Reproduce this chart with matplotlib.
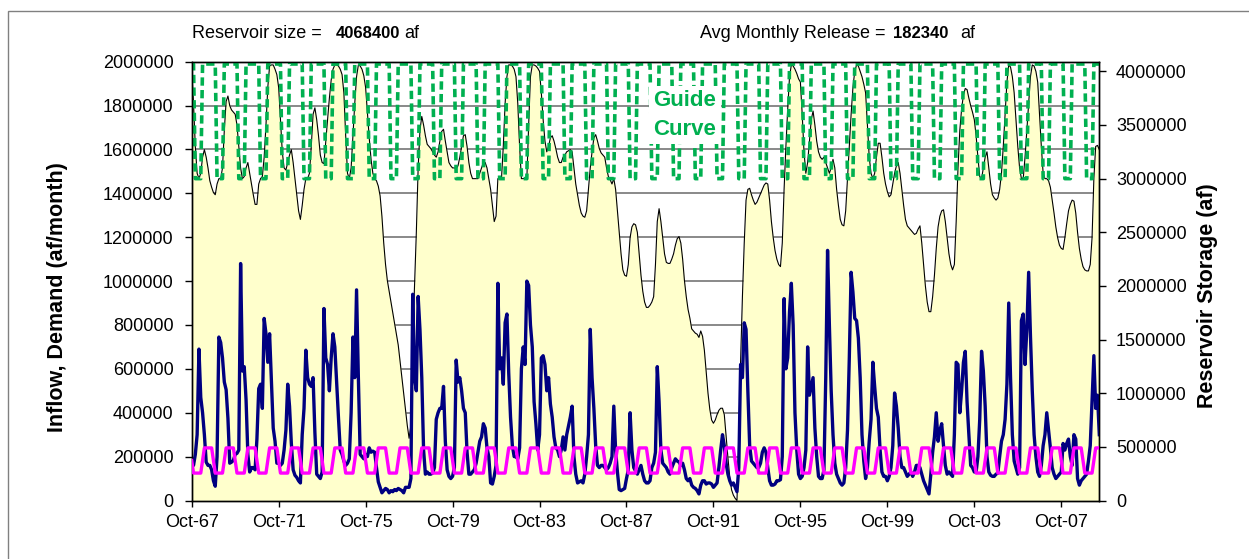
import numpy as np
import matplotlib.pyplot as plt
from matplotlib.ticker import FixedLocator, MultipleLocator, StrMethodFormatter
from matplotlib.patches import Rectangle

plt.rcParams['font.family'] = ['Liberation Sans', 'DejaVu Sans']

# monthly inflow (1000 af), Oct-67 .. Jul-09, one row per water year (Oct..Sep)
inflow_kaf = [
    190, 160, 210, 300, 690, 470, 400, 300, 175, 160, 160, 140,
    90, 65, 200, 745, 720, 650, 540, 505, 375, 170, 175, 183,
    210, 215, 230, 1080, 590, 610, 460, 210, 130, 150, 150, 140,
    280, 510, 530, 420, 830, 760, 630, 760, 550, 330, 270, 170,
    170, 160, 170, 230, 320, 530, 430, 260, 140, 115, 105, 90,
    80, 300, 420, 685, 560, 530, 520, 560, 310, 120, 110, 100,
    130, 875, 650, 620, 500, 650, 760, 700, 540, 380, 230, 210,
    180, 160, 170, 190, 400, 745, 560, 960, 560, 210, 200, 190,
    210, 200, 240, 220, 225, 220, 150, 85, 60, 35, 45, 55,
    50, 35, 45, 40, 50, 45, 55, 50, 45, 35, 60, 60,
    60, 100, 940, 560, 500, 930, 780, 560, 230, 120, 130, 120,
    120, 125, 150, 370, 400, 420, 420, 520, 270, 140, 110, 100,
    110, 150, 640, 540, 560, 500, 420, 400, 220, 120, 120, 130,
    140, 170, 220, 270, 290, 350, 330, 240, 200, 80, 75, 110,
    160, 990, 600, 650, 530, 810, 850, 580, 380, 250, 200, 200,
    190, 240, 600, 700, 620, 1000, 980, 800, 700, 450, 350, 230,
    300, 650, 660, 620, 500, 560, 440, 380, 290, 240, 230, 200,
    230, 290, 230, 300, 340, 380, 430, 200, 120, 80, 85, 90,
    80, 120, 200, 300, 780, 560, 420, 250, 160, 150, 160, 160,
    150, 140, 150, 170, 200, 430, 230, 130, 50, 45, 50, 55,
    100, 140, 400, 230, 150, 135, 120, 140, 160, 120, 90, 80,
    80, 90, 150, 170, 220, 610, 450, 230, 170, 160, 150, 130,
    120, 150, 170, 190, 180, 175, 160, 170, 140, 100, 90, 100,
    70, 60, 55, 45, 30, 70, 90, 90, 75, 80, 80, 75,
    60, 70, 80, 150, 230, 300, 250, 170, 120, 90, 70, 80,
    60, 40, 150, 620, 560, 810, 780, 500, 250, 180, 170, 160,
    150, 150, 170, 220, 240, 220, 150, 90, 70, 70, 75, 90,
    90, 95, 200, 920, 600, 650, 860, 990, 800, 400, 230, 120,
    100, 110, 150, 230, 700, 480, 520, 560, 330, 200, 110, 100,
    100, 140, 560, 1140, 800, 500, 300, 170, 120, 100, 80, 70,
    80, 150, 320, 650, 1040, 950, 830, 820, 740, 560, 300, 180,
    100, 150, 270, 370, 630, 520, 420, 380, 230, 130, 110, 110,
    90, 110, 150, 250, 490, 430, 330, 200, 150, 150, 130, 110,
    120, 130, 110, 130, 160, 160, 150, 120, 90, 70, 50, 30,
    120, 220, 290, 400, 270, 320, 350, 250, 160, 120, 130, 120,
    110, 300, 630, 620, 400, 500, 630, 680, 450, 300, 160, 150,
    130, 130, 200, 370, 680, 590, 430, 200, 130, 115, 110, 110,
    120, 125, 200, 270, 300, 370, 530, 900, 560, 300, 180, 150,
    120, 150, 820, 850, 620, 780, 1040, 750, 500, 300, 200, 130,
    110, 160, 250, 300, 400, 320, 240, 150, 120, 100, 110, 120,
    130, 260, 230, 260, 280, 200, 160, 300, 280, 100, 70, 90,
    100, 110, 120, 180, 250, 450, 660, 420, 480, 300,
]

# end-of-month reservoir storage (million af), same months
storage_maf = [
    4.02, 3.7, 3.3, 3.05, 3.0, 3.05, 3.2, 3.27, 3.2, 3.1, 2.98, 2.92,
    2.87, 2.85, 2.95, 3.0, 3.0, 3.1, 3.45, 3.72, 3.77, 3.68, 3.64, 3.62,
    3.6, 3.5, 3.3, 3.1, 3.0, 3.02, 3.1, 3.15, 3.05, 2.95, 2.85, 2.76,
    2.76, 2.95, 3.0, 3.02, 3.2, 3.5, 3.85, 4.05, 4.06, 4.06, 4.02, 3.97,
    3.85, 3.55, 3.25, 3.1, 3.08, 3.15, 3.22, 3.27, 3.15, 3.0, 2.85, 2.7,
    2.62, 2.75, 2.9, 3.0, 3.0, 3.05, 3.3, 3.6, 3.66, 3.55, 3.4, 3.22,
    3.15, 3.14, 3.35, 3.55, 3.75, 3.92, 4.02, 4.06, 4.06, 4.05, 4.02, 3.97,
    3.8, 3.4, 3.05, 3.0, 3.1, 3.4, 3.7, 3.95, 4.06, 4.05, 4.02, 3.96,
    3.85, 3.62, 3.38, 3.18, 3.05, 3.0, 2.98, 2.93, 2.84, 2.65, 2.4, 2.2,
    2.05, 1.95, 1.85, 1.75, 1.65, 1.55, 1.45, 1.3, 1.15, 1.0, 0.85, 0.7,
    0.58, 0.7, 1.5, 2.0, 2.5, 3.1, 3.45, 3.58, 3.5, 3.4, 3.32, 3.3,
    3.28, 3.25, 3.22, 3.2, 3.25, 3.35, 3.44, 3.46, 3.35, 3.25, 3.15, 3.12,
    3.1, 3.1, 3.09, 3.12, 3.2, 3.3, 3.4, 3.41, 3.3, 3.15, 3.05, 3.0,
    3.0, 3.0, 3.0, 3.05, 3.1, 3.15, 3.15, 3.1, 3.0, 2.9, 2.75, 2.6,
    2.65, 3.0, 3.0, 3.0, 3.3, 3.7, 3.95, 4.06, 4.06, 4.05, 4.02, 3.95,
    3.7, 3.3, 3.0, 3.0, 3.0, 3.0, 3.5, 3.95, 4.06, 4.06, 4.05, 4.03,
    4.0, 3.8, 3.55, 3.35, 3.25, 3.3, 3.38, 3.4, 3.35, 3.28, 3.2, 3.15,
    3.15, 3.2, 3.22, 3.25, 3.26, 3.27, 3.25, 3.1, 2.95, 2.85, 2.75, 2.68,
    2.65, 2.64, 2.7, 2.9, 3.1, 3.25, 3.38, 3.41, 3.35, 3.28, 3.24, 3.22,
    3.2, 3.1, 3.02, 2.99, 2.95, 3.0, 2.9, 2.7, 2.5, 2.3, 2.15, 2.1,
    2.09, 2.2, 2.45, 2.55, 2.58, 2.57, 2.5, 2.3, 2.1, 1.95, 1.85, 1.8,
    1.8, 1.82, 1.85, 1.9, 2.2, 2.6, 2.72, 2.6, 2.45, 2.3, 2.22, 2.21,
    2.21, 2.25, 2.3, 2.38, 2.44, 2.46, 2.4, 2.25, 2.05, 1.9, 1.78, 1.7,
    1.6, 1.58, 1.56, 1.55, 1.52, 1.58, 1.53, 1.4, 1.2, 1.0, 0.85, 0.75,
    0.72, 0.75, 0.8, 0.84, 0.86, 0.86, 0.8, 0.6, 0.4, 0.22, 0.1, 0.05,
    0.02, 0.0, 0.6, 1.3, 1.9, 2.4, 2.8, 2.9, 2.91, 2.85, 2.8, 2.76,
    2.78, 2.82, 2.86, 2.9, 2.94, 2.96, 2.95, 2.8, 2.6, 2.45, 2.33, 2.25,
    2.2, 2.18, 2.4, 2.9, 3.3, 3.65, 3.95, 4.06, 4.05, 4.02, 3.98, 3.93,
    3.9, 3.6, 3.25, 3.05, 3.15, 3.35, 3.55, 3.63, 3.5, 3.35, 3.25, 3.2,
    3.18, 3.2, 3.15, 3.1, 3.05, 3.1, 3.18, 3.1, 2.9, 2.75, 2.62, 2.57,
    2.56, 2.7, 3.0, 3.3, 3.6, 3.85, 4.0, 4.06, 4.05, 4.0, 3.95, 3.88,
    3.8, 3.5, 3.2, 3.05, 3.0, 3.05, 3.2, 3.33, 3.33, 3.2, 3.05, 2.95,
    2.88, 2.83, 2.85, 2.95, 3.05, 3.12, 3.15, 3.05, 2.9, 2.75, 2.62, 2.56,
    2.54, 2.52, 2.5, 2.48, 2.49, 2.53, 2.56, 2.4, 2.2, 2.0, 1.85, 1.76,
    1.76, 1.9, 2.1, 2.35, 2.55, 2.65, 2.7, 2.71, 2.6, 2.45, 2.3, 2.2,
    2.15, 2.2, 2.6, 3.1, 3.45, 3.65, 3.78, 3.84, 3.83, 3.75, 3.68, 3.62,
    3.55, 3.4, 3.2, 3.02, 3.0, 3.1, 3.2, 3.25, 3.1, 2.95, 2.85, 2.82,
    2.8, 2.82, 2.9, 3.05, 3.3, 3.6, 3.9, 4.06, 4.04, 3.95, 3.8, 3.55,
    3.3, 3.1, 3.0, 3.0, 3.2, 3.45, 3.7, 3.95, 4.06, 4.05, 4.0, 3.9,
    3.6, 3.3, 3.05, 3.0, 3.0, 2.98, 2.92, 2.8, 2.68, 2.55, 2.45, 2.38,
    2.35, 2.34, 2.45, 2.58, 2.7, 2.76, 2.8, 2.79, 2.68, 2.5, 2.35, 2.25,
    2.18, 2.15, 2.14, 2.14, 2.2, 2.45, 3.0, 3.3, 3.31, 3.27,
]

# repeating monthly rules, Oct..Sep
guide_pattern = [4068400, 4068400, 3000000, 3000000, 3000000, 3000000,
                 4068400, 4068400, 4068400, 4068400, 4068400, 4068400]
demand_pattern = [182340, 125000, 125000, 125000, 125000, 125000,
                  182340, 239680, 239680, 239680, 239680, 239680]

reservoir_size = 4068400
avg_release = 182340
tick_labels = ["Oct-67", "Oct-71", "Oct-75", "Oct-79", "Oct-83", "Oct-87",
               "Oct-91", "Oct-95", "Oct-99", "Oct-03", "Oct-07"]

n = len(inflow_kaf)
months = np.arange(n)
inflow = np.array(inflow_kaf) * 1000.0
storage = np.array(storage_maf) * 1e6
guide = np.resize(guide_pattern, n)
demand = np.resize(demand_pattern, n)

W, H = 1249, 559
fig = plt.figure(figsize=(W / 100, H / 100), dpi=100)
ax = fig.add_axes([191.7 / W, 1 - 500.5 / H, 907.6 / W, 438.8 / H])
ax2 = ax.twinx()
ax.set_zorder(ax2.get_zorder() + 1)
ax.patch.set_visible(False)

LEFT_MAX = 2000000
RIGHT_MAX = 4090000

# storage side (drawn underneath)
ax2.set_ylim(0, RIGHT_MAX)
ax2.yaxis.set_major_locator(MultipleLocator(500000))
ax2.yaxis.set_major_formatter(StrMethodFormatter("{x:.0f}"))
# gridlines follow the left-axis ticks, but sit below the storage area
ax2.yaxis.set_minor_locator(FixedLocator(np.arange(1, 10) * RIGHT_MAX / 10))
ax2.grid(which="minor", axis="y", color="#808080", lw=1.3)
ax2.set_axisbelow(True)
ax2.fill_between(months, storage, color="#FFFFCC", lw=0, zorder=1)
ax2.plot(months, storage, color="black", lw=0.8, zorder=2)
ax2.plot(months, guide, color="#00B050", lw=2.6, ls=(0, (2.3, 1.2)), zorder=3)
ax2.text(0.5435, 0.878, "Guide\nCurve", transform=ax2.transAxes, ha="center", va="center",
         fontsize=16, fontweight="bold", color="#00B050", linespacing=1.5, zorder=4,
         bbox=dict(facecolor="white", edgecolor="none", pad=3))
ax2.tick_params(axis="y", which="major", direction="out", length=5, width=1,
                labelsize=13, pad=7)
ax2.tick_params(axis="y", which="minor", length=0)

# inflow / demand side
ax.plot(months, inflow, color="#000080", lw=2.4, zorder=2)
ax.plot(months, demand, color="#FF00FF", lw=2.4, zorder=3)
ax.set_xlim(0, n - 1)
ax.set_ylim(0, LEFT_MAX)
ax.yaxis.set_major_locator(MultipleLocator(200000))
ax.yaxis.set_major_formatter(StrMethodFormatter("{x:.0f}"))
ax.set_xticks(np.arange(0, n, 48))
ax.set_xticklabels(tick_labels)
ax.tick_params(axis="y", direction="out", length=5, width=1, labelsize=13, pad=8)
ax.tick_params(axis="x", direction="out", length=4, width=1, labelsize=13, pad=6)

for a in (ax, ax2):
    for s in a.spines.values():
        s.set_color("black")
        s.set_linewidth(1)

fig.text(58 / W, 1 - 297 / H, "Inflow, Demand (af/month)", rotation=90, ha="center",
         va="center", fontsize=15.5, fontweight="bold")
fig.text(1207.5 / W, 1 - 296 / H, "Reservoir Storage (af)", rotation=90, ha="center",
         va="center", fontsize=15.5, fontweight="bold")

# header line
ty = 1 - 33 / H
fig.text(192 / W, ty, "Reservoir size = ", ha="left", va="center", fontsize=13)
fig.text(336 / W, ty, f"{reservoir_size}", ha="left", va="center", fontsize=12, fontweight="bold")
fig.text(404 / W, ty, "af", ha="left", va="center", fontsize=13)
fig.text(700 / W, ty, "Avg Monthly Release = ", ha="left", va="center", fontsize=13)
fig.text(893 / W, ty, f"{avg_release}", ha="left", va="center", fontsize=12, fontweight="bold")
fig.text(960 / W, ty, "af", ha="left", va="center", fontsize=13)

# outer chart border (only left and top edges fall inside the image)
fig.add_artist(Rectangle((7.5 / W, -0.5), 1.5, 0.5 + 1 - 10.5 / H, transform=fig.transFigure,
                         fill=False, edgecolor="#808080", lw=1))

fig.savefig("out.png", dpi=100)
